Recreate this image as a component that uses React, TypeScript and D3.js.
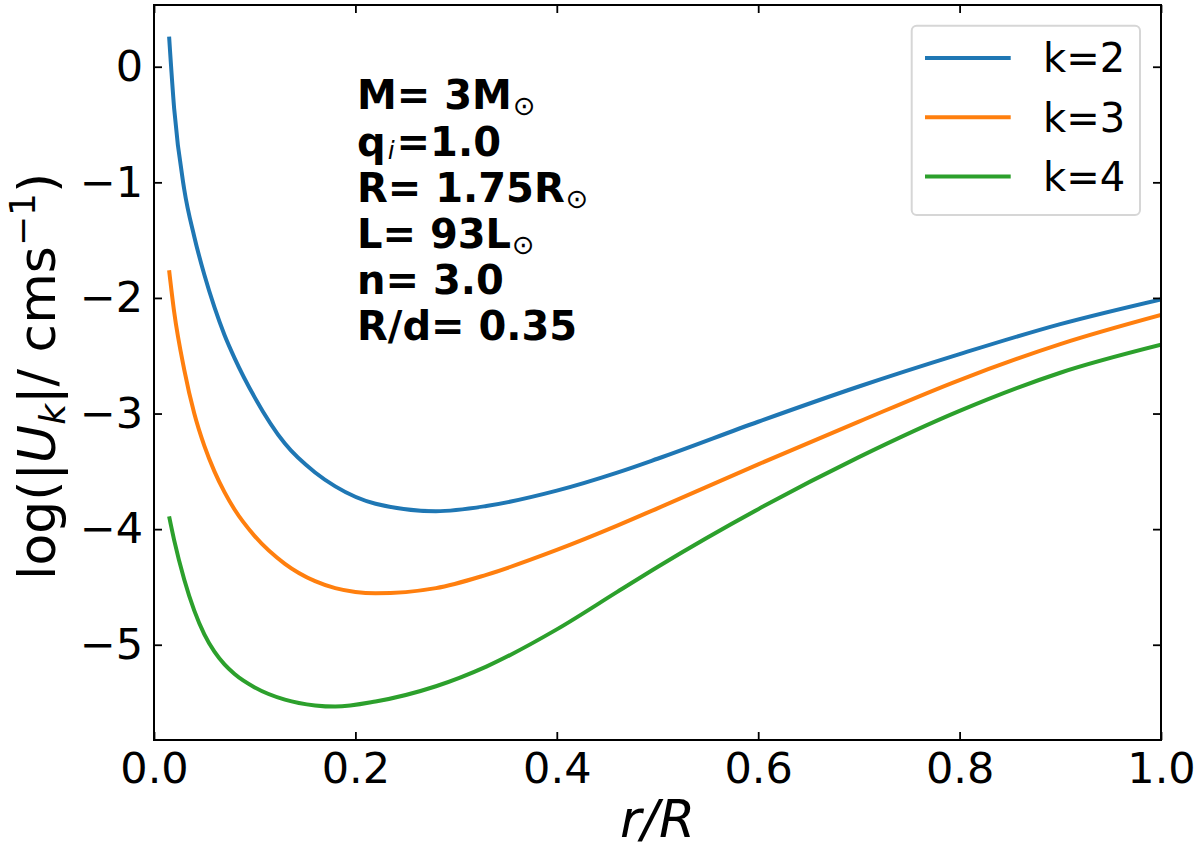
import React, { useRef, useEffect } from "react";
import * as d3 from "d3";

// r/R sample points
const radius = [
  0.015, 0.02, 0.03, 0.04, 0.05, 0.06, 0.07, 0.08, 0.1, 0.13, 0.16, 0.18,
  0.22, 0.28, 0.33, 0.4, 0.46, 0.5, 0.6, 0.7, 0.8, 0.9, 1.0,
];
const k2 = [
  0.26, -0.36, -1.06, -1.47, -1.8, -2.08, -2.32, -2.52, -2.86, -3.26, -3.51,
  -3.63, -3.78, -3.845, -3.8, -3.667, -3.511, -3.391, -3.071, -2.766, -2.486,
  -2.226, -2.012,
];
const k3 = [
  -1.76, -2.12, -2.62, -3.0, -3.28, -3.5, -3.68, -3.83, -4.06, -4.3, -4.45,
  -4.51, -4.555, -4.51, -4.395, -4.18, -3.97, -3.82, -3.44, -3.07, -2.71,
  -2.4, -2.148,
];
const k4 = [
  -3.89, -4.095, -4.435, -4.705, -4.91, -5.06, -5.17, -5.253, -5.369, -5.475,
  -5.525, -5.535, -5.491, -5.359, -5.189, -4.867, -4.543, -4.327, -3.827,
  -3.377, -2.977, -2.647, -2.405,
];

const seriesNames = ["k=2", "k=3", "k=4"];
const seriesColors = ["#1f77b4", "#ff7f0e", "#2ca02c"];
const seriesValues = [k2, k3, k4];

const xTicks = [0, 0.2, 0.4, 0.6, 0.8, 1.0];
const yTicks = [0, -1, -2, -3, -4, -5];

const FONT = "'DejaVu Sans', sans-serif";

const Chart = () => {
  const ref = useRef<SVGSVGElement | null>(null);

  useEffect(() => {
    if (!ref.current) return;
    const svg = d3.select(ref.current);
    svg.selectAll("*").remove();

    const W = 1200;
    const H = 851;
    const margin = { top: 5, right: 39, bottom: 111, left: 154 };
    const width = W - margin.left - margin.right;
    const height = H - margin.top - margin.bottom;

    const x = d3.scaleLinear().domain([0, 1]).range([0, width]);
    const y = d3.scaleLinear().domain([-5.824, 0.534]).range([height, 0]);

    const chart = svg
      .append("g")
      .attr("transform", `translate(${margin.left},${margin.top})`);

    chart
      .append("clipPath")
      .attr("id", "plot-clip")
      .append("rect")
      .attr("width", width)
      .attr("height", height);

    // curves
    const line = d3
      .line<number>()
      .x((_, i) => x(radius[i]))
      .y((d) => y(d))
      .curve(d3.curveMonotoneX);

    seriesValues.forEach((vals, i) => {
      chart
        .append("path")
        .datum(vals)
        .attr("clip-path", "url(#plot-clip)")
        .attr("fill", "none")
        .attr("stroke", seriesColors[i])
        .attr("stroke-width", 4)
        .attr("d", line);
    });

    const styleAxis = (g: d3.Selection<SVGGElement, unknown, null, undefined>) => {
      g.select(".domain").remove();
      g.selectAll(".tick line").attr("stroke", "#000").attr("stroke-width", 1.8);
      g.selectAll(".tick text")
        .style("font-family", FONT)
        .style("font-size", "43px")
        .attr("fill", "#000");
    };

    // bottom / left axes, ticks pointing inward
    chart
      .append("g")
      .attr("transform", `translate(0,${height})`)
      .call(
        d3
          .axisBottom(x)
          .tickValues(xTicks)
          .tickSize(-8)
          .tickPadding(12)
          .tickFormat(d3.format(".1f"))
      )
      .call(styleAxis);

    chart
      .append("g")
      .call(
        d3
          .axisLeft(y)
          .tickValues(yTicks)
          .tickSize(-8)
          .tickPadding(11)
          .tickFormat(d3.format("d"))
      )
      .call(styleAxis);

    // mirrored ticks on top / right
    chart
      .append("g")
      .call(d3.axisTop(x).tickValues(xTicks).tickSize(-8).tickFormat(() => ""))
      .call(styleAxis);

    chart
      .append("g")
      .attr("transform", `translate(${width},0)`)
      .call(d3.axisRight(y).tickValues(yTicks).tickSize(-8).tickFormat(() => ""))
      .call(styleAxis);

    // frame
    chart
      .append("rect")
      .attr("width", width)
      .attr("height", height)
      .attr("fill", "none")
      .attr("stroke", "#000")
      .attr("stroke-width", 2);

    // x label
    svg
      .append("text")
      .attr("x", margin.left + width / 2)
      .attr("y", 837)
      .attr("text-anchor", "middle")
      .style("font-family", FONT)
      .style("font-size", "52px")
      .style("font-style", "italic")
      .text("r/R");

    // y label
    const yl = svg
      .append("text")
      .attr("transform", `translate(55,580) rotate(-90)`)
      .attr("text-anchor", "start")
      .style("font-family", FONT)
      .style("font-size", "52px");
    yl.append("tspan").text("log(|");
    yl.append("tspan").style("font-style", "italic").text("U");
    yl.append("tspan")
      .style("font-style", "italic")
      .style("font-size", "36px")
      .attr("dy", 10)
      .text("k");
    yl.append("tspan").attr("dy", -10).text("|/ cms");
    yl.append("tspan").style("font-size", "36px").attr("dy", -20).text("−1");
    yl.append("tspan").attr("dy", 20).text(")");

    // parameter block
    const infoX = 357;
    const info = svg
      .append("g")
      .style("font-family", FONT)
      .style("font-size", "40px")
      .style("font-weight", "bold");
    const lineGap = 46.2;
    const addLine = (i: number, parts: [string, string?][]) => {
      const t = info
        .append("text")
        .attr("x", infoX)
        .attr("y", 109.3 + i * lineGap);
      parts.forEach(([s, kind]) => {
        if (kind === "sun") {
          t.append("tspan")
            .style("font-size", "27px")
            .style("font-weight", "normal")
            .attr("dx", 1)
            .attr("dy", 6)
            .text("⊙");
        } else if (kind === "sub") {
          t.append("tspan")
            .style("font-size", "25px")
            .style("font-weight", "normal")
            .style("font-style", "italic")
            .attr("dx", 2)
            .attr("dy", 3)
            .text(s);
        } else {
          t.append("tspan")
            .attr("dx", i === 1 && s.startsWith("=") ? 2 : 0)
            .attr("dy", i === 1 && s.startsWith("=") ? -3 : 0)
            .text(s);
        }
      });
    };
    addLine(0, [["M= 3M"], ["", "sun"]]);
    addLine(1, [["q"], ["i", "sub"], ["=1.0"]]);
    addLine(2, [["R= 1.75R"], ["", "sun"]]);
    addLine(3, [["L= 93L"], ["", "sun"]]);
    addLine(4, [["n= 3.0"]]);
    addLine(5, [["R/d= 0.35"]]);

    // legend
    const legend = svg.append("g");
    legend
      .append("rect")
      .attr("x", 911.7)
      .attr("y", 25.7)
      .attr("width", 228.3)
      .attr("height", 189.3)
      .attr("rx", 5)
      .attr("fill", "#fff")
      .attr("fill-opacity", 0.8)
      .attr("stroke", "#d6d6d6")
      .attr("stroke-width", 2);
    seriesNames.forEach((name, i) => {
      const ly = 58 + i * 59.3;
      legend
        .append("line")
        .attr("x1", 925)
        .attr("x2", 1010.7)
        .attr("y1", ly)
        .attr("y2", ly)
        .attr("stroke", seriesColors[i])
        .attr("stroke-width", 4);
      legend
        .append("text")
        .attr("x", 1043)
        .attr("y", ly)
        .attr("dy", "0.36em")
        .style("font-family", FONT)
        .style("font-size", "40px")
        .text(name);
    });
  }, []);

  return <svg ref={ref} width={1200} height={851} style={{ display: "block" }} />;
};

export default function App() {
  return (
    <div style={{ position: "absolute", left: 0, top: 0, background: "#fff" }}>
      <Chart />
    </div>
  );
}
